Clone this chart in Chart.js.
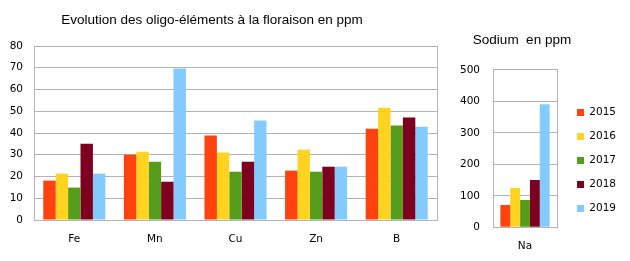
<!DOCTYPE html>
<html>
<head>
<meta charset="utf-8">
<script src="https://cdn.jsdelivr.net/npm/chart.js@4"></script>
<style>
  html, body { margin: 0; padding: 0; background: #ffffff; }
  body { width: 630px; height: 261px; position: relative; overflow: hidden; }
  #oligo { position: absolute; left: -16px; top: 0; }
  #sodium { position: absolute; left: 418px; top: 0; }
</style>
</head>
<body>
<canvas id="oligo" width="456" height="261"></canvas>
<canvas id="sodium" width="208" height="261"></canvas>
<script>
// data
const years = ['2015', '2016', '2017', '2018', '2019'];
const elements = ['Fe', 'Mn', 'Cu', 'Zn', 'B'];
const v2015 = [18.1, 30.0, 38.8, 22.7, 42.0];
const v2016 = [21.3, 31.4, 31.0, 32.3, 51.6];
const v2017 = [14.9, 26.8, 22.2, 22.2, 43.4];
const v2018 = [35.1, 17.6, 26.8, 24.5, 47.1];
const v2019 = [21.3, 69.7, 45.7, 24.5, 42.9];
const oligoTicks = [0, 10, 20, 30, 40, 50, 60, 70, 80];

const sodiumLabels = ['Na'];
const sodium = [71, 125, 87, 150, 391];   // one value per year
const sodiumTicks = [0, 100, 200, 300, 400, 500];

const colors = ['#ff420e', '#ffd320', '#579d1c', '#7e0021', '#83caff'];
const gridColor = '#b4b4b4';
const tickFont = { family: 'DejaVu Sans', size: 10.5 };
const titleFont = { family: 'Liberation Sans', size: 13.5, weight: 'normal' };

Chart.defaults.animation = false;
Chart.defaults.color = '#000000';

function fixedWidth(w) { return scale => { scale.width = w; }; }
function fixedHeight(h) { return scale => { scale.height = h; }; }

// left chart : oligo-elements
// (y axis is made wider than needed so the title centre lands where it does in the original)
const oligoSeries = [v2015, v2016, v2017, v2018, v2019];
new Chart(document.getElementById('oligo'), {
    type: 'bar',
    data: {
        labels: elements,
        datasets: oligoSeries.map((vals, i) => ({
            label: years[i],
            data: vals,
            backgroundColor: colors[i],
            categoryPercentage: 0.77,
            barPercentage: 1.0
        }))
    },
    options: {
        responsive: false,
        layout: { padding: 0 },
        plugins: {
            legend: { display: false },
            tooltip: { enabled: false },
            title: {
                display: true,
                text: 'Evolution des oligo-éléments à la floraison en ppm',
                font: titleFont,
                color: '#000000',
                padding: { top: 11.9, bottom: 17.9 }
            }
        },
        scales: {
            x: {
                grid: { display: false },
                border: { display: true, color: gridColor },
                ticks: { font: tickFont, padding: 5, color: '#000000' },
                afterFit: fixedHeight(41)
            },
            y: {
                min: 0, max: 80,
                afterBuildTicks: scale => { scale.ticks = oligoTicks.map(v => ({ value: v })); },
                grid: { color: gridColor, drawTicks: false },
                border: { display: true, color: gridColor },
                ticks: { font: tickFont, padding: 11, color: '#000000' },
                afterFit: fixedWidth(50)
            },
            y2: {
                position: 'right',
                min: 0, max: 80,
                grid: { display: false, drawOnChartArea: false },
                border: { display: true, color: gridColor },
                ticks: { display: false },
                afterFit: fixedWidth(3)
            }
        }
    }
});

// right chart : sodium
new Chart(document.getElementById('sodium'), {
    type: 'bar',
    data: {
        labels: sodiumLabels,
        datasets: years.map((y, i) => ({
            label: y,
            data: [sodium[i]],
            backgroundColor: colors[i],
            categoryPercentage: 0.77,
            barPercentage: 1.0
        }))
    },
    options: {
        responsive: false,
        layout: { padding: 0 },
        plugins: {
            tooltip: { enabled: false },
            title: {
                display: true,
                text: 'Sodium  en ppm',
                font: titleFont,
                color: '#000000',
                padding: { top: 31.9, bottom: 21.7 }
            },
            legend: {
                position: 'right',
                align: 'end',
                fullSize: false,
                maxWidth: 90,
                labels: {
                    boxWidth: 7,
                    boxHeight: 7,
                    padding: 13.5,
                    font: tickFont,
                    color: '#000000'
                }
            }
        },
        scales: {
            x: {
                grid: { display: false },
                border: { display: true, color: gridColor },
                ticks: { font: tickFont, padding: 5, color: '#000000' },
                afterFit: fixedHeight(33.7)
            },
            y: {
                min: 0, max: 500,
                afterBuildTicks: scale => { scale.ticks = sodiumTicks.map(v => ({ value: v })); },
                grid: { color: gridColor, drawTicks: false },
                border: { display: true, color: gridColor },
                ticks: { font: tickFont, padding: 13, color: '#000000' },
                afterFit: fixedWidth(75)
            },
            y2: {
                position: 'right',
                min: 0, max: 500,
                grid: { display: false, drawOnChartArea: false },
                border: { display: true, color: gridColor },
                ticks: { display: false },
                afterFit: fixedWidth(6.5)
            }
        }
    }
});
</script>
</body>
</html>
